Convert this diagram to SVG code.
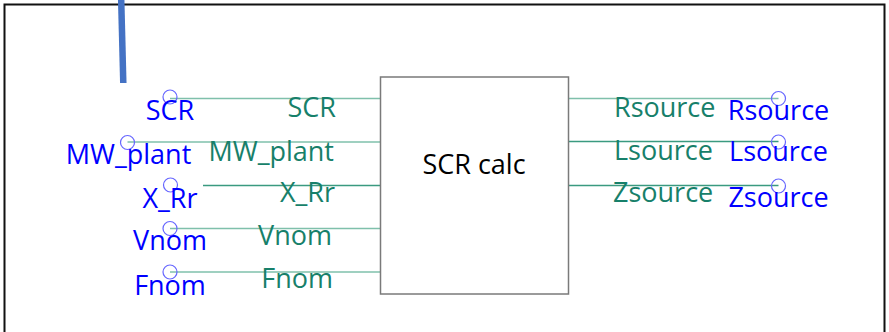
<svg xmlns="http://www.w3.org/2000/svg" width="889" height="332" viewBox="0 0 889 332">
  <style>
    .lbl { font-family: "Open Sans", "DejaVu Sans", sans-serif; font-size: 27px; }
    .port-name { fill: #0000ff; text-anchor: middle; }
    .pin-in { fill: #17806a; text-anchor: end; }
    .pin-out { fill: #17806a; text-anchor: start; }
    .term { fill: none; stroke: #6666ff; stroke-width: 1.2; }
    .wire { fill: none; stroke: #3a9a80; stroke-width: 1.3; }
    .wire-soft { fill: none; stroke: #7fc0ab; stroke-width: 1.6; }
  </style>

  <rect x="0" y="0" width="889" height="332" fill="#ffffff"/>

  <!-- outer page frame -->
  <path d="M4.5,340 V4.5 H884.5 V340" fill="none" stroke="#111111" stroke-width="2"/>

  <!-- incoming bus stub -->
  <line x1="121.2" y1="0" x2="123.3" y2="83" stroke="#4472c4" stroke-width="6.5"/>

  <!-- signal wires -->
  <g id="connectors">
    <line class="wire-soft" x1="170" y1="98.5" x2="380" y2="98.5"/>
    <line class="wire-soft" x1="127.5" y1="142" x2="380" y2="142"/>
    <line class="wire" x1="203" y1="185.5" x2="380" y2="185.5"/>
    <line class="wire-soft" x1="170" y1="228.5" x2="380" y2="228.5"/>
    <line class="wire-soft" x1="170" y1="272" x2="380" y2="272"/>
    <line class="wire-soft" x1="569" y1="98.5" x2="778.5" y2="98.5"/>
    <line class="wire" x1="569" y1="141.5" x2="778.5" y2="141.5"/>
    <line class="wire" x1="569" y1="185.5" x2="778.5" y2="185.5"/>
  </g>

  <!-- calculation block -->
  <g id="scr-calc">
    <rect x="380.5" y="77" width="188" height="217" fill="#ffffff" stroke="#7a7a7a" stroke-width="1.5"/>
    <text class="lbl" x="474" y="174" fill="#000000" text-anchor="middle">SCR calc</text>
    <text class="lbl pin-in" x="336" y="117">SCR</text>
    <text class="lbl pin-in" x="334" y="161">MW_plant</text>
    <text class="lbl pin-in" x="335" y="202">X_Rr</text>
    <text class="lbl pin-in" x="332" y="245">Vnom</text>
    <text class="lbl pin-in" x="333" y="288">Fnom</text>
    <text class="lbl pin-out" x="614" y="117">Rsource</text>
    <text class="lbl pin-out" x="614" y="160">Lsource</text>
    <text class="lbl pin-out" x="613" y="202">Zsource</text>
  </g>

  <!-- input ports -->
  <g id="port-SCR">
    <circle class="term" cx="170" cy="97" r="7"/>
    <text class="lbl port-name" x="170" y="119.5">SCR</text>
  </g>
  <g id="port-MW_plant">
    <circle class="term" cx="127.5" cy="142.5" r="7"/>
    <text class="lbl port-name" x="128.5" y="164">MW_plant</text>
  </g>
  <g id="port-X_Rr">
    <circle class="term" cx="170.5" cy="185" r="7"/>
    <text class="lbl port-name" x="170" y="208">X_Rr</text>
  </g>
  <g id="port-Vnom">
    <circle class="term" cx="170" cy="228.5" r="7"/>
    <text class="lbl port-name" x="170" y="250">Vnom</text>
  </g>
  <g id="port-Fnom">
    <circle class="term" cx="170" cy="272" r="7"/>
    <text class="lbl port-name" x="170" y="295">Fnom</text>
  </g>

  <!-- output ports -->
  <g id="port-Rsource">
    <circle class="term" cx="778.5" cy="98.5" r="7"/>
    <text class="lbl port-name" x="778.5" y="120">Rsource</text>
  </g>
  <g id="port-Lsource">
    <circle class="term" cx="778.5" cy="142" r="7"/>
    <text class="lbl port-name" x="778.5" y="161">Lsource</text>
  </g>
  <g id="port-Zsource">
    <circle class="term" cx="778.5" cy="186" r="7"/>
    <text class="lbl port-name" x="778.5" y="206.5">Zsource</text>
  </g>
</svg>
